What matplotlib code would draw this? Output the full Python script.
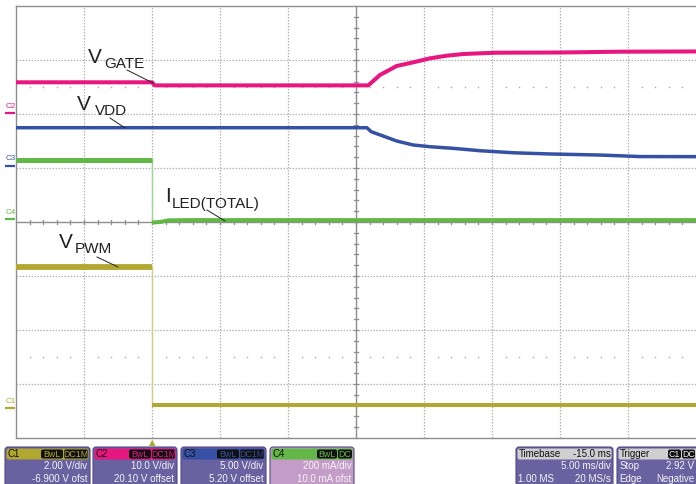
import matplotlib
matplotlib.use('Agg')
import matplotlib.pyplot as plt
from matplotlib.patches import FancyBboxPatch, Polygon
from matplotlib.transforms import blended_transform_factory
import numpy as np

plt.rcParams['font.family'] = ['Liberation Sans', 'DejaVu Sans']

# ---------------- data ----------------
# time axis (ms): 10 div x 5 ms/div, trigger at t = 0
T_LEFT, T_RIGHT = -10.0, 40.0

# channel settings: scale per div, offset
c1_scale, c1_offset = 2.00, -6.90     # V     (V_PWM)
c2_scale, c2_offset = 10.0, 20.10     # V     (V_GATE)
c3_scale, c3_offset = 5.00, 5.20      # V     (V_VDD)
c4_scale, c4_offset = 200.0, 10.0     # mA    (I_LED)

# V_GATE (C2), volts
gate_t = [-10.0, 0.0, 0.2, 15.9, 16.76, 17.99, 19.21, 20.44, 21.67, 22.89, 24.12, 25.35, 30.0, 34.41, 40.0]
gate_v = [5.77, 5.77, 5.2, 5.2, 7.12, 8.79, 9.47, 10.21, 10.70, 11.01, 11.14, 11.25, 11.29, 11.44, 11.48]

# V_VDD (C3), volts
vdd_t = [-10.0, 15.8, 16.12, 17.0, 17.99, 19.21, 20.44, 22.15, 24.12, 26.57, 29.26, 32.94, 35.88, 40.0]
vdd_v = [3.53, 3.53, 3.16, 2.76, 2.30, 1.93, 1.77, 1.62, 1.40, 1.21, 1.10, 1.00, 0.86, 0.85]

# I_LED(TOTAL) (C4), mA
iled_before_t = [-10.0, 0.0]
iled_before_v = [221, 221]
iled_after_t = [0.0, 0.6, 1.2, 2.5, 40.0]
iled_after_v = [-12, -10, -4, -3, -3]

# V_PWM (C1), volts
pwm_before_t = [-10.0, 0.0]
pwm_before_v = [5.22, 5.22]
pwm_after_t = [0.0, 40.0]
pwm_after_v = [0.12, 0.12]

# colours
C1_COL = '#b0a830'
C2_COL = '#e8177f'
C3_COL = '#3651a3'
C4_COL = '#62b846'


def to_div(vals, scale, offset):
    return [(v + offset) / scale for v in vals]


# ---------------- figure ----------------
fig = plt.figure(figsize=(6.96, 4.84), dpi=100)
fig.patch.set_facecolor('white')
ax = fig.add_axes([16 / 696, 46 / 484, 680 / 696, 432 / 484])
ax.set_xlim(T_LEFT, T_RIGHT)
ax.set_ylim(-4, 4)
ax.axis('off')

grid_kw = dict(color='#b4b4b4', lw=0.9, ls=(0, (1.2, 1.2)), zorder=1)
for t in np.arange(-5, 40, 5):
    if t == 15:
        continue
    ax.axvline(t, **grid_kw)
for d in [-3, -2, -1, 1, 2, 3]:
    ax.axhline(d, **grid_kw)

solid = dict(color='#8e8e8e', lw=1.0, zorder=1.5, clip_on=False)
ax.axvline(15, **solid)
ax.axhline(0, **solid)
ax.axvline(-10, **solid)
ax.axhline(4, **solid)
ax.axhline(-4, **solid)

# minor ticks on the centre axes
for t in np.arange(-9, 40, 1):
    ax.plot([t, t], [-0.04, 0.04], color='#8e8e8e', lw=0.9, zorder=1.5)
for d in np.arange(-3.8, 4.0, 0.2):
    ax.plot([14.82, 15.18], [d, d], color='#8e8e8e', lw=0.9, zorder=1.5)
# dotted rows at +/-2.5 div
dot_t = [t for t in np.arange(-9, 40, 1) if t % 5 != 0]
for yy in (2.5, -2.5):
    ax.plot(dot_t, [yy] * len(dot_t), ls='none', marker='s', ms=1.0, mew=0, color='#a8a8a8', zorder=1)

# ---------------- traces ----------------
# C2 V_GATE
ax.plot(gate_t, to_div(gate_v, c2_scale, c2_offset), color=C2_COL, lw=2.9,
        solid_capstyle='butt', zorder=5)
# C3 V_VDD
ax.plot(vdd_t, to_div(vdd_v, c3_scale, c3_offset), color=C3_COL, lw=2.5,
        solid_capstyle='butt', zorder=5)
# C4 I_LED
ib = to_div(iled_before_v, c4_scale, c4_offset)
ia = to_div(iled_after_v, c4_scale, c4_offset)
ax.plot(iled_before_t, ib, color=C4_COL, lw=3.6, solid_capstyle='butt', zorder=5)
ax.plot(iled_after_t, ia, color=C4_COL, lw=2.9, solid_capstyle='butt', zorder=5)
ax.plot([iled_before_t[-1], iled_after_t[0]], [ib[-1], ia[0]], color='#9fd58f', lw=1.0, zorder=4)
# C1 V_PWM
pb = to_div(pwm_before_v, c1_scale, c1_offset)
pa = to_div(pwm_after_v, c1_scale, c1_offset)
ax.plot(pwm_before_t, pb, color=C1_COL, lw=4.2, solid_capstyle='butt', zorder=5)
ax.plot(pwm_after_t, pa, color=C1_COL, lw=2.9, solid_capstyle='butt', zorder=5)
ax.plot([pwm_before_t[-1], pwm_after_t[0]], [pb[-1], pa[0]], color='#d3cd86', lw=1.0, zorder=4)

# ---------------- overlay (labels, panels) ----------------
ov = fig.add_axes([0, 0, 1, 1])
ov.set_xlim(0, 696)
ov.set_ylim(484, 0)
ov.axis('off')

# ground markers at left: x in overlay pixels, y in channel divisions
mark_tr = blended_transform_factory(ov.transData, ax.transData)
for name, col, g in [('C2', C2_COL, c2_offset / c2_scale), ('C3', C3_COL, c3_offset / c3_scale),
                     ('C4', C4_COL, c4_offset / c4_scale), ('C1', C1_COL, c1_offset / c1_scale)]:
    ov.plot([5, 15], [g, g], color=col, lw=1.6, solid_capstyle='butt', transform=mark_tr)
    ov.text(5.5, g + 0.07, name, color=col, fontsize=5.8, ha='left', va='bottom',
            rotation=0, transform=mark_tr)

BIG, SUB = 15, 11
labels = [
    ('V', 'GATE', 88, 63, 104, 68, (127, 70), (153, 83)),
    ('V', 'VDD', 77, 110, 95, 115, (110, 118), (125, 128)),
    ('I', 'LED(TOTAL)', 165, 202, 172, 208, (207, 210), (225, 221)),
    ('V', 'PWM', 59, 248, 75, 253, (97, 257), (118, 267)),
]
for main, sub, mx, my, sx, sy, p0, p1 in labels:
    ov.text(mx, my, main, fontsize=BIG, color='#222222', ha='left', va='baseline')
    ov.text(sx, sy, sub, fontsize=SUB, color='#222222', ha='left', va='baseline')
    ov.plot([p0[0], p1[0]], [p0[1], p1[1]], color='#222222', lw=0.7)

# trigger position marker
ov.add_patch(Polygon([[149, 446], [155.5, 446], [152.2, 439.5]], closed=True, fc=C1_COL, ec='none'))

BODY = '#6a61a0'
EDGE = '#514a88'
TXT = '#f4f4f4'


def panel(x0, x1, head_col, body_col, y0=447, y1=492, head_h=12.5):
    ov.add_patch(FancyBboxPatch((x0, y0), x1 - x0, y1 - y0,
                                boxstyle='round,pad=0,rounding_size=3',
                                fc=body_col, ec=EDGE, lw=0.8, clip_on=False))
    ov.add_patch(FancyBboxPatch((x0 + 1.5, y0 + 1.5), x1 - x0 - 3, head_h - 1.5,
                                boxstyle='round,pad=0,rounding_size=2',
                                fc=head_col, ec='none', clip_on=False))


def badge(x0, x1, text, col, y0=449.5, y1=458.5):
    ov.add_patch(FancyBboxPatch((x0, y0), x1 - x0, y1 - y0,
                                boxstyle='round,pad=0,rounding_size=2',
                                fc='#111111', ec='none', clip_on=False))
    ov.text((x0 + x1) / 2, (y0 + y1) / 2 + 0.3, text, color=col, fontsize=6.3,
            ha='center', va='center', clip_on=False)


ch_panels = [
    ('C1', 5, 90, C1_COL, BODY, '2.00 V/div', '-6.900 V ofst', [('BwL', 41, 63), ('DC1M', 64, 88)]),
    ('C2', 93, 177, C2_COL, BODY, '10.0 V/div', '20.10 V offset', [('BwL', 129, 151), ('DC1M', 152, 175)]),
    ('C3', 181, 266, C3_COL, BODY, '5.00 V/div', '5.20 V offset', [('BwL', 217, 239), ('DC1M', 240, 264)]),
    ('C4', 270, 354, C4_COL, '#c49cc8', '200 mA/div', '10.0 mA ofst', [('BwL', 317, 337), ('DC', 338, 352)]),
]
for name, x0, x1, hc, bc, l1, l2, badges in ch_panels:
    panel(x0, x1, hc, bc)
    ov.text(x0 + 2.5, 457, name, color='#111111', fontsize=7, ha='left', va='baseline')
    for bt, bx0, bx1 in badges:
        badge(bx0, bx1, bt, hc)
    ov.text(x1 - 2.5, 469, l1, color=TXT, fontsize=7, ha='right', va='baseline')
    ov.text(x1 - 2.5, 481.5, l2, color=TXT, fontsize=7, ha='right', va='baseline')

# timebase panel
panel(516, 613, '#cfcfcf', BODY)
ov.text(518.5, 457, 'Timebase', color='#111111', fontsize=7, ha='left', va='baseline')
ov.text(611, 457, '-15.0 ms', color='#111111', fontsize=7, ha='right', va='baseline')
ov.text(611, 469, '5.00 ms/div', color=TXT, fontsize=7, ha='right', va='baseline')
ov.text(518.5, 481.5, '1.00 MS', color=TXT, fontsize=7, ha='left', va='baseline')
ov.text(611, 481.5, '20 MS/s', color=TXT, fontsize=7, ha='right', va='baseline')

# trigger panel
panel(617, 710, '#cfcfcf', BODY)
ov.text(619.5, 457, 'Trigger', color='#111111', fontsize=7, ha='left', va='baseline')
badge(668, 681, 'C1', '#f0f0f0')
badge(682, 695, 'DC', '#f0f0f0')
ov.text(694, 469, '2.92 V', color=TXT, fontsize=7, ha='right', va='baseline')
ov.text(694, 481.5, 'Negative', color=TXT, fontsize=7, ha='right', va='baseline')
ov.text(619.5, 469, 'Stop', color=TXT, fontsize=7, ha='left', va='baseline')
ov.text(619.5, 481.5, 'Edge', color=TXT, fontsize=7, ha='left', va='baseline')

fig.savefig('out.png', dpi=100)
